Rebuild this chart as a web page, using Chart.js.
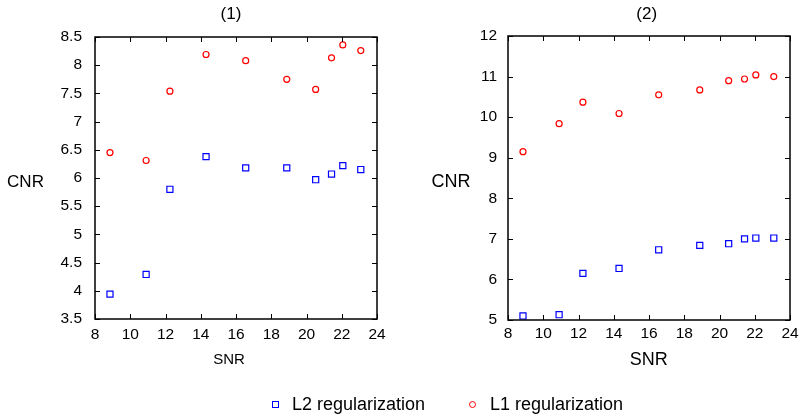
<!DOCTYPE html>
<html>
<head>
<meta charset="utf-8">
<script src="https://cdn.jsdelivr.net/npm/chart.js@4.4.0/dist/chart.umd.min.js"></script>
<style>
  body { margin: 0; background: #fff; }
  #wrap { position: relative; width: 802px; height: 417px; overflow: hidden; font-family: "Liberation Sans", Arial, sans-serif; }
  canvas { position: absolute; top: 0; }
  #c1 { left: 0; }
  #c2 { left: 400px; }
  .leg { position: absolute; top: 393px; font-size: 18px; color: #000; line-height: 22px; }
  .sq { position: absolute; width: 5px; height: 5px; border: 1.2px solid #0000ff; }
  .ci { position: absolute; width: 5px; height: 5px; border: 1.2px solid #ff0000; border-radius: 50%; }
</style>
</head>
<body>
<div id="wrap">
  <canvas id="c1" width="400" height="417"></canvas>
  <canvas id="c2" width="402" height="417"></canvas>
  <div class="sq" style="left:272px; top:401px;"></div>
  <div class="leg" style="left:292px;">L2 regularization</div>
  <div class="ci" style="left:469px; top:401px;"></div>
  <div class="leg" style="left:490px;">L1 regularization</div>
</div>
<script>
// SNR values (same for both panels)
var snr = [8.85, 10.9, 12.25, 14.3, 16.55, 18.88, 20.52, 21.42, 22.06, 23.08];

// panel (1)
var l2Panel1 = [3.94, 4.29, 5.80, 6.38, 6.18, 6.18, 5.97, 6.07, 6.22, 6.15];
var l1Panel1 = [6.45, 6.31, 7.54, 8.19, 8.08, 7.75, 7.57, 8.13, 8.36, 8.26];

// panel (2)
var l2Panel2 = [5.10, 5.13, 6.15, 6.27, 6.73, 6.84, 6.88, 7.00, 7.02, 7.02];
var l1Panel2 = [9.15, 9.84, 10.37, 10.09, 10.55, 10.67, 10.90, 10.94, 11.04, 11.00];

var xTicks = [8, 24, 2];
var yTicks1 = [3.5, 8.5, 0.5];
var yTicks2 = [5, 12, 1];

var FONT = '"Liberation Sans", Arial, sans-serif';

function pts(xs, ys) {
    return xs.map(function(x, i) { return { x: x, y: ys[i] }; });
}

var framePlugin = {
    id: 'frame',
    afterDraw: function(chart, args, o) {
        var ctx = chart.ctx, a = chart.chartArea;
        var xs = chart.scales.x, ys = chart.scales.y;
        ctx.save();
        ctx.strokeStyle = '#000';
        ctx.lineWidth = 1.5;
        ctx.strokeRect(a.left, a.top, a.right - a.left, a.bottom - a.top);
        ctx.lineWidth = 1;
        ctx.beginPath();
        xs.ticks.forEach(function(t) {
            var p = Math.round(xs.getPixelForValue(t.value)) + 0.5;
            ctx.moveTo(p, a.bottom); ctx.lineTo(p, a.bottom - 5);
            ctx.moveTo(p, a.top); ctx.lineTo(p, a.top + 5);
        });
        ys.ticks.forEach(function(t) {
            var p = Math.round(ys.getPixelForValue(t.value)) + 0.5;
            ctx.moveTo(a.left, p); ctx.lineTo(a.left + 5, p);
            ctx.moveTo(a.right, p); ctx.lineTo(a.right - 5, p);
        });
        ctx.stroke();
        ctx.fillStyle = '#000';
        ctx.textAlign = 'center';
        ctx.textBaseline = 'middle';
        ctx.font = '17px ' + FONT;
        ctx.fillText(o.title, o.titleX, 14);
        ctx.font = o.yFont + 'px ' + FONT;
        ctx.fillText('CNR', o.yLabelX, 182);
        ctx.font = o.xFont + 'px ' + FONT;
        ctx.fillText('SNR', o.xLabelX, 360);
        ctx.restore();
    }
};

function makeChart(id, l2, l1, yt, yWidth, pad, yPad, xPad, labels) {
    return new Chart(document.getElementById(id), {
        type: 'scatter',
        data: {
            datasets: [
                {
                    label: 'L2 regularization',
                    data: pts(snr, l2),
                    pointStyle: 'rect',
                    pointRadius: 4.3,
                    borderColor: '#0000ff',
                    backgroundColor: 'rgba(0,0,0,0)',
                    borderWidth: 1.2
                },
                {
                    label: 'L1 regularization',
                    data: pts(snr, l1),
                    pointStyle: 'circle',
                    pointRadius: 3,
                    borderColor: '#ff0000',
                    backgroundColor: 'rgba(0,0,0,0)',
                    borderWidth: 1.2
                }
            ]
        },
        options: {
            responsive: false,
            animation: false,
            events: [],
            layout: { padding: pad },
            plugins: {
                legend: { display: false },
                tooltip: { enabled: false },
                frame: labels
            },
            scales: {
                x: {
                    type: 'linear',
                    min: xTicks[0], max: xTicks[1],
                    grid: { display: false },
                    border: { display: false },
                    ticks: { stepSize: xTicks[2], color: '#000', padding: xPad, font: { family: FONT, size: 15.5 } },
                    afterFit: function(s) { s.height = 40; }
                },
                y: {
                    min: yt[0], max: yt[1],
                    grid: { display: false },
                    border: { display: false },
                    ticks: {
                        stepSize: yt[2], color: '#000', padding: yPad,
                        font: { family: FONT, size: 15.5 },
                        callback: function(v) { return String(v); }
                    },
                    afterFit: function(s) { s.width = yWidth; }
                }
            }
        },
        plugins: [framePlugin]
    });
}

makeChart('c1', l2Panel1, l1Panel1, yTicks1, 95,
    { left: 0, top: 37, right: 23, bottom: 58 }, 5, -2,
    { title: '(1)', titleX: 231, yLabelX: 25.5, yFont: 17, xLabelX: 229, xFont: 15 });

makeChart('c2', l2Panel2, l1Panel2, yTicks2, 108,
    { left: 0, top: 36, right: 12, bottom: 57 }, 3, -4,
    { title: '(2)', titleX: 246.7, yLabelX: 51, yFont: 18, xLabelX: 248.7, xFont: 18 });
</script>
</body>
</html>
